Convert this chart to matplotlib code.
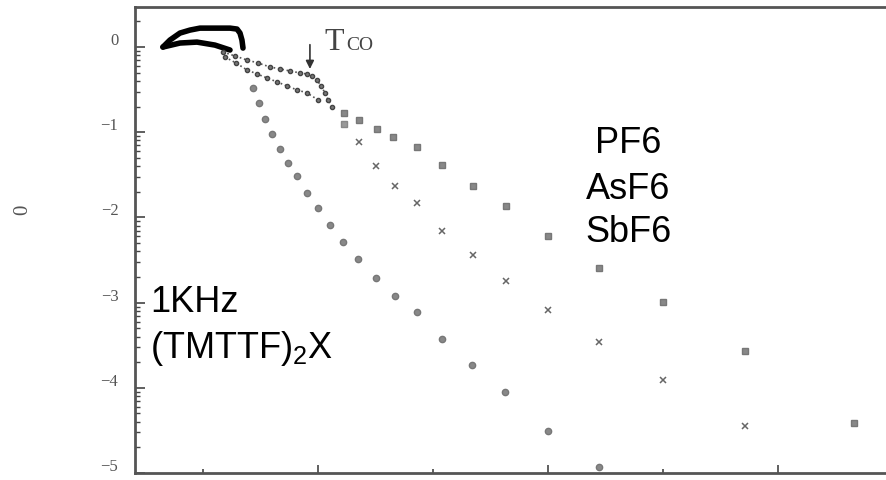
import numpy as np
import matplotlib
matplotlib.use('Agg')
import matplotlib.pyplot as plt
from matplotlib.transforms import ScaledTranslation

plt.rcParams['mathtext.fontset'] = 'custom'
plt.rcParams['mathtext.rm'] = 'Liberation Sans'

# hysteresis loop at the top (thick line)
loop_x = [0.652, 0.713, 0.800, 0.887, 0.974, 1.104, 1.235, 1.296, 1.322, 1.339, 1.348]
loop_y = [0.0, 0.082, 0.164, 0.199, 0.222, 0.222, 0.222, 0.211, 0.164, 0.082, -0.012]
loop_base_x = [0.652, 0.800, 0.948, 1.104, 1.235]
loop_base_y = [0.0, 0.047, 0.058, 0.023, -0.035]

# PF6: dense curve then sparse points
pf6_curve_x = [1.174, 1.278, 1.383, 1.478, 1.583, 1.670, 1.757, 1.843, 1.904, 1.948, 1.991, 2.026, 2.061, 2.087, 2.122]
pf6_curve_y = [-0.058, -0.105, -0.152, -0.187, -0.234, -0.257, -0.281, -0.304, -0.316, -0.339, -0.386, -0.456, -0.538, -0.620, -0.702]
pf6_x = [2.226, 2.357, 2.513, 2.652, 2.861, 3.078, 3.348, 3.635, 4.000, 4.443, 5.000, 5.713, 6.661]
pf6_y = [-0.772, -0.854, -0.959, -1.053, -1.170, -1.380, -1.626, -1.871, -2.222, -2.596, -2.994, -3.567, -4.409]

# AsF6
asf6_curve_x = [1.191, 1.287, 1.383, 1.470, 1.557, 1.643, 1.730, 1.817, 1.904, 2.000]
asf6_curve_y = [-0.117, -0.187, -0.269, -0.316, -0.363, -0.409, -0.456, -0.503, -0.538, -0.620]
asf6_x = [2.226, 2.357, 2.504, 2.670, 2.861, 3.078, 3.348, 3.635, 4.000, 4.443, 5.000, 5.713]
asf6_y = [-0.901, -1.111, -1.392, -1.626, -1.836, -2.164, -2.444, -2.749, -3.088, -3.462, -3.906, -4.444]

# SbF6
sbf6_x = [1.435, 1.487, 1.539, 1.600, 1.670, 1.739, 1.817, 1.904, 2.000, 2.104, 2.217, 2.348, 2.504, 2.670, 2.861, 3.078, 3.339, 3.626, 4.000, 4.443]
sbf6_y = [-0.480, -0.655, -0.842, -1.018, -1.193, -1.357, -1.509, -1.708, -1.895, -2.094, -2.292, -2.491, -2.713, -2.924, -3.111, -3.427, -3.731, -4.047, -4.503, -4.924]

y_ticks = [0, -1, -2, -3, -4, -5]
y_labels = ['0', '\u22121', '\u22122', '\u22123', '\u22124', '\u22125']
x_major = [2, 4, 6]
x_minor = [1, 3, 5]

fig = plt.figure(figsize=(8.86, 4.8), dpi=100)
ax = fig.add_axes([135/886, 7/480, 1 - 135/886, 466/480])

ax.plot(loop_x, loop_y, color='black', lw=4, solid_capstyle='round')
ax.plot(loop_base_x, loop_base_y, color='black', lw=4, solid_capstyle='round')
ax.plot(pf6_curve_x, pf6_curve_y, color='#555555', lw=1.2, ls=':', marker='o', ms=3, mfc='#777777', mec='#444444')
ax.plot(asf6_curve_x, asf6_curve_y, color='#555555', lw=1.2, ls=':', marker='o', ms=3, mfc='#777777', mec='#444444')
ax.plot(pf6_x, pf6_y, ls='none', marker='s', ms=4, mfc='#888888', mec='#777777')
ax.plot(asf6_x[:1], asf6_y[:1], ls='none', marker='s', ms=4, mfc='#999999', mec='#888888')
ax.plot(asf6_x[1:], asf6_y[1:], ls='none', marker='x', ms=4, mew=1.1, color='#666666')
ax.plot(sbf6_x, sbf6_y, ls='none', marker='o', ms=4.5, mfc='#888888', mec='#777777')

ax.set_xlim(0.409, 6.939)
ax.set_ylim(-5.0, 0.47)

ax.set_xticks(x_major)
ax.set_xticks(x_minor, minor=True)
ax.set_xticklabels([])
ax.tick_params(axis='x', which='major', direction='in', length=6, width=1.2, color='#444444')
ax.tick_params(axis='x', which='minor', direction='in', length=3, width=1.2, color='#444444')

ax.set_yticks(y_ticks)
ax.set_yticklabels(y_labels, family='Liberation Serif', fontsize=12, color='#555555')
ymin_ticks = [m + np.log10(k) for m in range(-5, 1) for k in range(2, 10) if m + np.log10(k) < 0.47]
ax.set_yticks(ymin_ticks, minor=True)
ax.tick_params(axis='y', which='major', direction='in', length=7, width=1.2, color='#444444', pad=12)
ax.tick_params(axis='y', which='minor', direction='in', length=3.5, width=1.0, color='#444444')
for lab in ax.get_yticklabels():
    lab.set_transform(lab.get_transform() + ScaledTranslation(0, 0.08, fig.dpi_scale_trans))

for s in ['left', 'bottom', 'top']:
    ax.spines[s].set_color('#555555')
    ax.spines[s].set_linewidth(2)
ax.spines['right'].set_visible(False)

fig.text(23/886, 1 - 210/480, '0', rotation=90, ha='center', va='center',
         family='Liberation Serif', fontsize=15, color='#555555')

# T_CO marker
ax.annotate('', xy=(1.930, -0.29), xytext=(1.930, 0.06),
            arrowprops=dict(arrowstyle='-|>', color='#333333', lw=1.2, mutation_scale=12))
ax.text(2.06, -0.035, 'T', family='Liberation Serif', fontsize=23, color='#444444', va='baseline')
ax.text(2.245, -0.035, 'CO', family='Liberation Serif', fontsize=14, color='#444444', va='baseline')

ax.text(4.696, -1.24, 'PF6', ha='center', va='baseline', family='Liberation Sans', fontsize=26)
ax.text(4.696, -1.789, 'AsF6', ha='center', va='baseline', family='Liberation Sans', fontsize=26)
ax.text(4.696, -2.292, 'SbF6', ha='center', va='baseline', family='Liberation Sans', fontsize=26)
ax.text(0.539, -3.111, '1KHz', ha='left', va='baseline', family='Liberation Sans', fontsize=26)
ax.text(0.539, -3.649, r'(TMTTF)$_\mathregular{2}$X', ha='left', va='baseline', family='Liberation Sans', fontsize=26)

fig.savefig('out.png', dpi=100)
